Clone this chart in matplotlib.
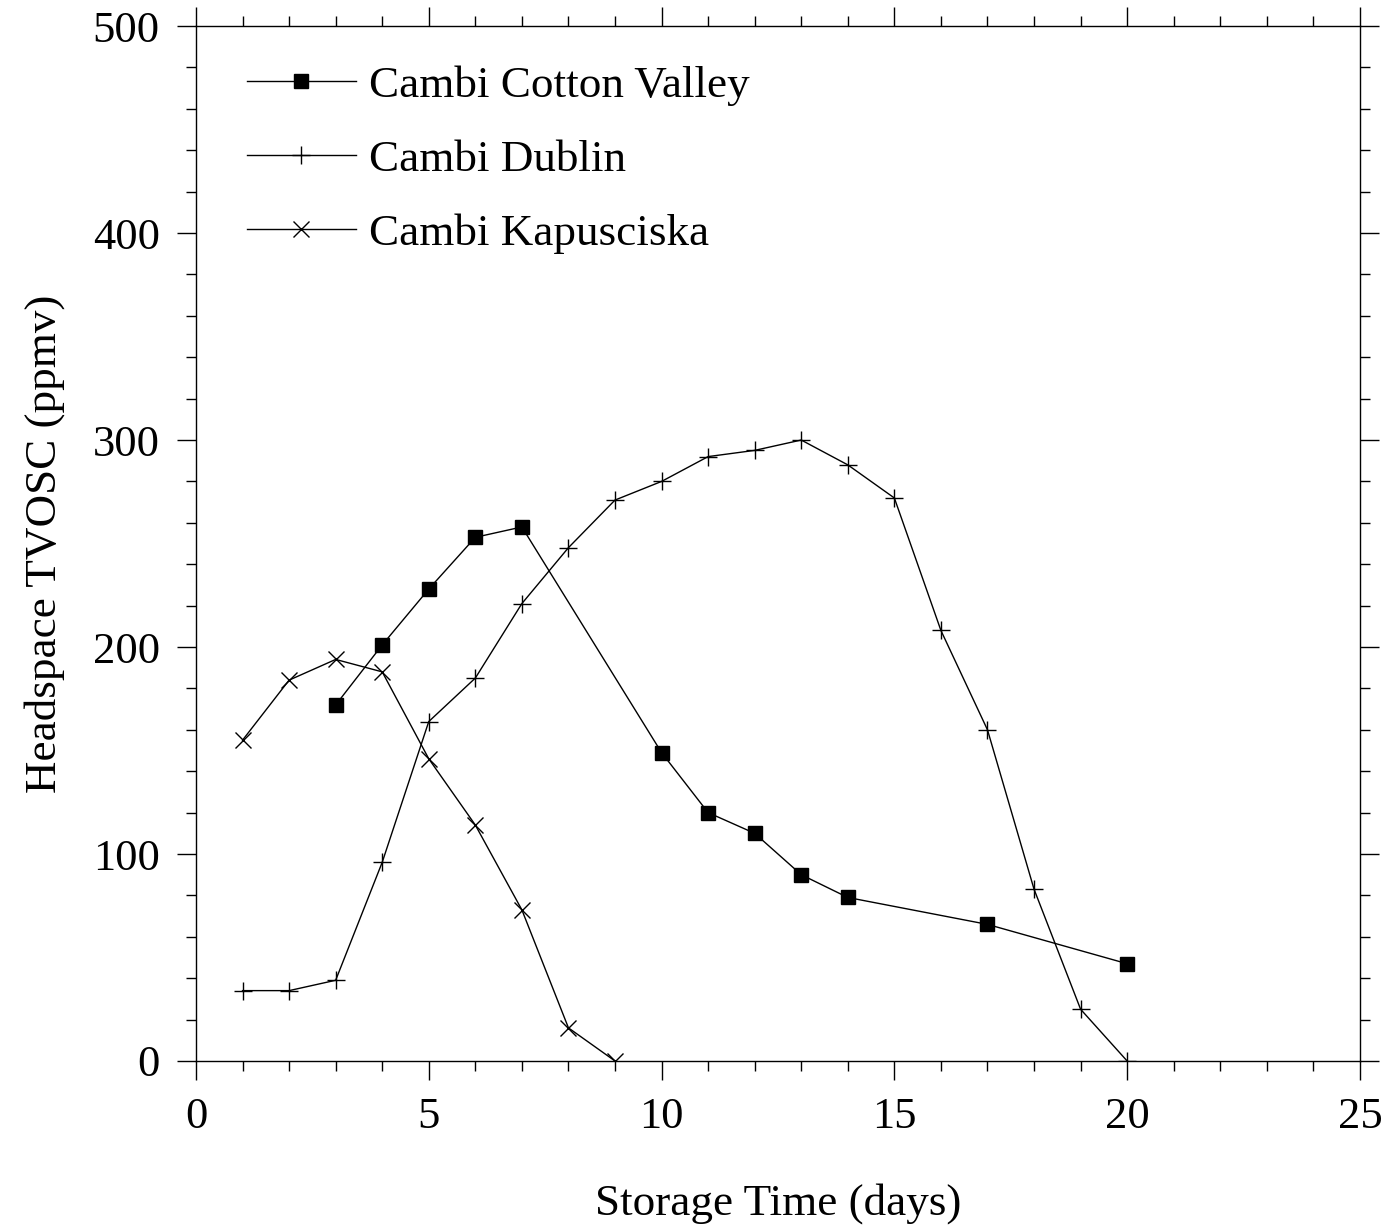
import matplotlib
matplotlib.use("Agg")
import matplotlib.pyplot as plt
from matplotlib.ticker import MultipleLocator

plt.rcParams["font.family"] = ["Liberation Serif", "DejaVu Serif"]

# Headspace TVOSC (ppmv) vs storage time (days)
cotton_days = [3, 4, 5, 6, 7, 10, 11, 12, 13, 14, 17, 20]
cotton_ppmv = [172, 201, 228, 253, 258, 149, 120, 110, 90, 79, 66, 47]

dublin_days = [1, 2, 3, 4, 5, 6, 7, 8, 9, 10, 11, 12, 13, 14, 15, 16, 17, 18, 19, 20]
dublin_ppmv = [34, 34, 39, 96, 164, 185, 221, 248, 271, 280, 292, 295, 300,
               288, 272, 208, 160, 83, 25, 0]

kapu_days = [1, 2, 3, 4, 5, 6, 7, 8, 9]
kapu_ppmv = [155, 184, 194, 188, 146, 114, 73, 16, 0]

fig = plt.figure(figsize=(13.86, 12.29), dpi=100)
ax = fig.add_axes([0.1414, 0.1367, 0.8398, 0.8421])

ax.plot(cotton_days, cotton_ppmv, "-", color="black", lw=1.0, marker="s",
        ms=10, mfc="black", mec="black", label="Cambi Cotton Valley")
ax.plot(dublin_days, dublin_ppmv, "-", color="black", lw=1.0, marker="+",
        ms=13, mew=1.0, label="Cambi Dublin")
ax.plot(kapu_days, kapu_ppmv, "-", color="black", lw=1.0, marker="x",
        ms=11, mew=1.0, label="Cambi Kapusciska")

ax.set_xlim(0, 25)
ax.set_ylim(0, 500)
ax.xaxis.set_major_locator(MultipleLocator(5))
ax.xaxis.set_minor_locator(MultipleLocator(1))
ax.yaxis.set_major_locator(MultipleLocator(100))
ax.yaxis.set_minor_locator(MultipleLocator(20))
ax.tick_params(which="both", direction="out", top=True, right=True,
               width=1.0, colors="black")
ax.tick_params(which="major", length=14, pad=12, labelsize=32)
ax.tick_params(which="minor", length=7)
for s in ax.spines.values():
    s.set_linewidth(1.0)

ax.set_xlabel("Storage Time (days)", fontsize=32.5, labelpad=33)
ax.set_ylabel("Headspace TVOSC (ppmv)", fontsize=32.5, labelpad=20)

ax.legend(loc="upper left", bbox_to_anchor=(0.044, 0.962), frameon=False,
          borderpad=0, borderaxespad=0,
          fontsize=32.5, handlelength=2.4, handletextpad=0.3, labelspacing=0.74)

fig.savefig("out.png", dpi=100)
